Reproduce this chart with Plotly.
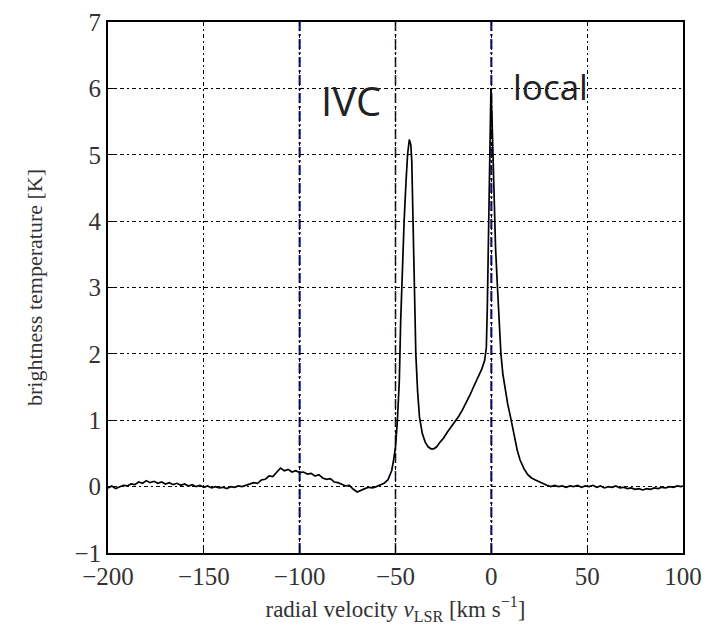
import plotly.graph_objects as go

# ---- data ----
velocity = [
    -200, -198, -196, -194, -192, -190, -188, -186, -184, -182, -180, -178, -176, -174, -172, -170,
    -168, -166, -164, -162, -160, -158, -156, -154, -152, -150, -148, -146, -144, -142, -140, -138,
    -136, -134, -132, -130, -128, -126, -124, -122, -120, -118, -116, -114, -112, -110, -108, -106,
    -104, -102, -100, -98, -96, -94, -92, -90, -88, -86, -84, -82, -80, -78, -76, -74, -72, -70,
    -68, -66, -64, -62, -60, -58, -56, -54, -52, -51, -50, -49, -48, -47.3, -46.5, -45.5, -44.5,
    -43.7, -42.8, -42, -41.5, -41, -40.5, -40, -39.4, -38.5, -37.5, -36, -34.5, -33, -31.5, -30,
    -28.5, -27, -25, -23, -21, -19, -17, -15, -13, -11, -9, -7, -5, -3.5, -2.6, -2.1, -1.6, -1.1,
    -0.6, -0.2, 0.3, 0.8, 1.4, 2.2, 3.2, 4.2, 5.0, 6.0, 7.2, 8.5, 10, 11, 12, 13.5, 15, 17, 19, 21,
    23, 25, 27, 29, 31, 33, 35, 37, 39, 41, 43, 45, 47, 49, 51, 53, 55, 57, 59, 61, 63, 65, 67, 69,
    71, 73, 75, 77, 79, 81, 83, 85, 87, 89, 91, 93, 95, 97, 99, 100,
]
temperature = [
    -0.02, 0.01, -0.03, 0.0, 0.02, 0.01, 0.04, 0.03, 0.07, 0.05, 0.09, 0.06, 0.08, 0.05, 0.07, 0.04,
    0.06, 0.03, 0.05, 0.02, 0.04, 0.01, 0.03, 0.0, 0.02, -0.01, 0.01, -0.02, 0.0, -0.02, -0.01, -0.03,
    0.0, -0.01, 0.01, 0.0, 0.02, 0.03, 0.06, 0.05, 0.10, 0.11, 0.16, 0.15, 0.22, 0.28, 0.24, 0.26,
    0.22, 0.24, 0.21, 0.22, 0.19, 0.20, 0.16, 0.18, 0.13, 0.11, 0.12, 0.07, 0.06, 0.03, 0.01, 0.02, -0.04, -0.08,
    -0.05, -0.03, -0.01, -0.02, 0.0, 0.02, 0.05, 0.10, 0.24, 0.40, 0.60, 1.0, 1.6, 2.5, 3.3, 4.0, 4.6,
    5.0, 5.23, 5.15, 4.9, 4.2, 3.3, 2.6, 2.0, 1.45, 1.05, 0.80, 0.67, 0.60, 0.57, 0.57,
    0.60, 0.66, 0.73, 0.82, 0.90, 0.98, 1.06, 1.16, 1.27, 1.39, 1.52, 1.65, 1.77, 1.90, 2.1, 2.7, 3.5, 4.4,
    5.4, 6.0, 5.6, 5.0, 4.3, 3.6, 3.0, 2.4, 2.0, 1.7, 1.45, 1.25, 1.05, 0.90, 0.72, 0.55, 0.40, 0.27, 0.18, 0.13,
    0.10, 0.07, 0.04, 0.02, 0.0, 0.02, 0.0, 0.01, -0.01, 0.01, 0.0, 0.02, -0.01, 0.01, 0.0, 0.02, -0.01, 0.01, -0.02, 0.0, -0.01, 0.01, -0.02, -0.01,
    -0.03, -0.02, -0.04, -0.03, -0.05, -0.03, -0.04, -0.02, -0.03, -0.01, -0.02, 0.0, -0.01, 0.01, 0.0, 0.01,
]

x_ticks = [-200, -150, -100, -50, 0, 50, 100]
y_ticks = [-1, 0, 1, 2, 3, 4, 5, 6, 7]

marker_velocities = [-100, -50, 0]
marker_colors = ["#1c1c8a", "#22223a", "#1c1c8a"]
marker_widths = [2.2, 1.6, 2.2]
label_texts = ["IVC", "local"]
label_x = [-73, 31]
label_y = [5.82, 6.03]
label_sizes = [40, 35]

fig = go.Figure()
for v, c, w in zip(marker_velocities, marker_colors, marker_widths):
    fig.add_vline(x=v, line=dict(color=c, width=w, dash="10px,3px,2px,3px"), layer="below")

fig.add_trace(go.Scatter(
    x=velocity, y=temperature, mode="lines",
    line=dict(color="black", width=1.7), showlegend=False,
))

for t, xx, yy, s in zip(label_texts, label_x, label_y, label_sizes):
    fig.add_annotation(x=xx, y=yy, text=t, showarrow=False,
                       font=dict(family="Open Sans", size=s, color="#222"))

serif = "Liberation Serif, Times New Roman, serif"
grid_dash = "4px,3px,2px,3px"
fig.update_xaxes(
    range=[-200, 100], tickvals=x_ticks, ticks="inside", ticklen=8, tickcolor="black",
    showline=True, linecolor="black", linewidth=2, mirror=True,
    showgrid=True, gridcolor="black", gridwidth=1.3, griddash=grid_dash,
    zeroline=False,
    tickfont=dict(family=serif, size=25, color="#333"),
    title=dict(text="radial velocity <i>v</i><sub>LSR</sub> [km s<sup>−1</sup>]",
               font=dict(family=serif, size=23, color="#333"), standoff=12),
)
fig.update_yaxes(
    range=[-1, 7], tickvals=y_ticks, ticks="inside", ticklen=8, tickcolor="black",
    showline=True, linecolor="black", linewidth=2, mirror=True,
    showgrid=True, gridcolor="black", gridwidth=1.3, griddash=grid_dash,
    zeroline=False,
    tickfont=dict(family=serif, size=25, color="#333"),
    title=dict(text="brightness temperature [K]",
               font=dict(family=serif, size=22, color="#333"), standoff=26),
)
fig.update_layout(
    width=709, height=633,
    margin=dict(l=108, r=26, t=22, b=80, autoexpand=False),
    plot_bgcolor="white", paper_bgcolor="white",
)
fig.write_html("out.html")
